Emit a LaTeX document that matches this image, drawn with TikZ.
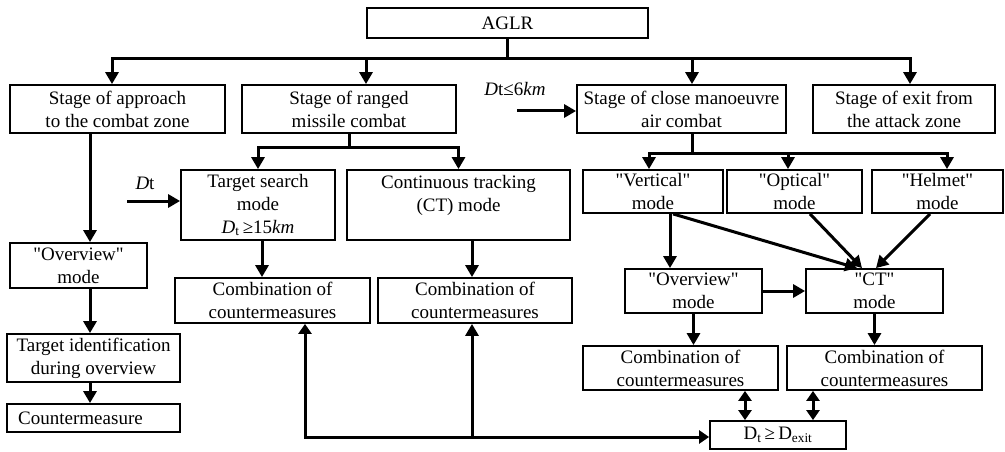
\documentclass[tikz,border=0pt]{standalone}
\usepackage{fontspec}
\setmainfont{Liberation Serif}[Ligatures=TeXOff]
\usetikzlibrary{arrows.meta, positioning, calc}

\begin{document}
\begin{tikzpicture}[
  x=1pt, y=-1pt,
  box/.style={draw, line width=1.8pt, align=center, inner sep=0pt, font=\fontsize{19}{23}\selectfont},
  lbl/.style={inner sep=0pt, font=\fontsize{19}{23}\selectfont},
  arr/.style={-{Triangle[length=12pt,width=13pt]}, line width=3pt},
  dbl/.style={{Triangle[length=10pt,width=13pt]}-{Triangle[length=10pt,width=13pt]}, line width=3pt}
]
\useasboundingbox (0,0) rectangle (1005,452);

% top and stages
\node[box, minimum width=281pt, minimum height=30pt] (aglr) at (507.5,23) {AGLR};
\node[box, minimum width=215pt, minimum height=48pt] (s1) at (117.5,109) {Stage of approach\\to the combat zone};
\node[box, minimum width=214pt, minimum height=48pt] (s2) at (349,109) {Stage of ranged\\missile combat};
\node[box, minimum width=209pt, minimum height=48pt] (s3) at (681.5,109) {Stage of close manoeuvre\\air combat};
\node[box, minimum width=182pt, minimum height=48pt] (s4) at (904,109) {Stage of exit from\\the attack zone};

% left branch
\node[box, minimum width=137pt, minimum height=45pt] (ov1) at (78.5,265.5) {"Overview"\\mode};
\node[box, minimum width=173pt, minimum height=48pt] (tid) at (93.5,358) {Target identification\\during overview};
\node[box, minimum width=173pt, minimum height=28pt] (cm) at (93.5,418) {Countermeasure\hspace{26pt}};

% ranged combat
\node[box, minimum width=154pt, minimum height=70pt] (search) at (258,205) {Target search\\mode\\\textit{D}\textsubscript{t}\,≥15\textit{km}};
\node[box, minimum width=223pt, minimum height=70pt] (track) at (458.5,205) {Continuous tracking\\(CT) mode\\\mbox{}};
\node[box, minimum width=195pt, minimum height=45pt] (comb1) at (272.5,300.5) {Combination of\\countermeasures};
\node[box, minimum width=194pt, minimum height=45pt] (comb2) at (475,300.5) {Combination of\\countermeasures};

% close combat
\node[box, minimum width=140pt, minimum height=43pt] (vert) at (653,191.5) {"Vertical"\\mode};
\node[box, minimum width=135pt, minimum height=43pt] (opt) at (794.5,191.5) {"Optical"\\mode};
\node[box, minimum width=131pt, minimum height=43pt] (helm) at (937.5,191.5) {"Helmet"\\mode};
\node[box, minimum width=137pt, minimum height=44pt] (ov2) at (693.5,291) {"Overview"\\mode};
\node[box, minimum width=137pt, minimum height=44pt] (ct) at (874.5,291) {"CT"\\mode};
\node[box, minimum width=195pt, minimum height=44pt] (comb3) at (680.5,368) {Combination of\\countermeasures};
\node[box, minimum width=195pt, minimum height=44pt] (comb4) at (884.5,368) {Combination of\\countermeasures};
\node[box, minimum width=136pt, minimum height=28pt] (exit) at (778,435) {D\textsubscript{t}\,≥\,D\textsubscript{exit}};

% range labels
\node[lbl] (dt1) at (145,183) {\textit{D}t};
\coordinate (dt1a) at (127,201);
\draw[arr] (dt1a) -- (dt1a -| search.west);
\node[lbl] (dt2) at (515,89) {\textit{D}t≤6\textit{km}};
\coordinate (dt2a) at (517,111);
\draw[arr] (dt2a) -- (dt2a -| s3.west);

% tree connectors
\foreach \n/\dx in {s1/-5.5, s2/17, s3/10.5, s4/6}
  \draw[arr] (aglr.south) -- ++(0,20) -| ([xshift=\dx pt]\n.north);
\foreach \n in {search, track}
  \draw[arr] (s2.south) -- ++(0,14) -| (\n.north);
\foreach \n/\dx in {vert/-4, opt/-6.5, helm/9.5}
  \draw[arr] ([xshift=10.5pt]s3.south) -- ++(0,20) -| ([xshift=\dx pt]\n.north);

\draw[arr] ([xshift=-27.5pt]s1.south) -- ([xshift=11.5pt]ov1.north);
\draw[arr] ([xshift=11.5pt]ov1.south) -- ([xshift=-3.5pt]tid.north);
\draw[arr] ([xshift=-3.5pt]tid.south) -- ([xshift=-3.5pt]cm.north);
\draw[arr] ([xshift=4pt]search.south) -- ([xshift=-10.5pt]comb1.north);
\draw[arr] ([xshift=13.5pt]track.south) -- ([xshift=-3pt]comb2.north);

\draw[arr] ([xshift=17pt]vert.south) -- ([xshift=-23.5pt]ov2.north);
\draw[arr] ([xshift=20pt]vert.south) -- ([xshift=-17.5pt]ct.north);
\draw[arr] ([xshift=15.5pt]opt.south) -- ([xshift=-12.5pt]ct.north);
\draw[arr] ([xshift=-7.5pt]helm.south) -- ([xshift=1.5pt]ct.north);
\draw[arr] (ov2.east) -- (ct.west);
\draw[arr] (ov2.south) -- (ov2.south |- comb3.north);
\draw[arr] (ct.south) -- (ct.south |- comb4.north);

% exit condition
\draw[dbl] ([xshift=32.5pt]comb1.south) |- ([yshift=-2pt]exit.west);
\coordinate (c2b) at ([xshift=-3pt]comb2.south);
\draw[arr] (c2b |- 0,437) -- (c2b);
\coordinate (c3b) at ([xshift=64.5pt]comb3.south);
\draw[dbl] (c3b) -- (c3b |- exit.north);
\coordinate (c4b) at ([xshift=-71.5pt]comb4.south);
\draw[dbl] (c4b) -- (c4b |- exit.north);
\end{tikzpicture}
\end{document}
